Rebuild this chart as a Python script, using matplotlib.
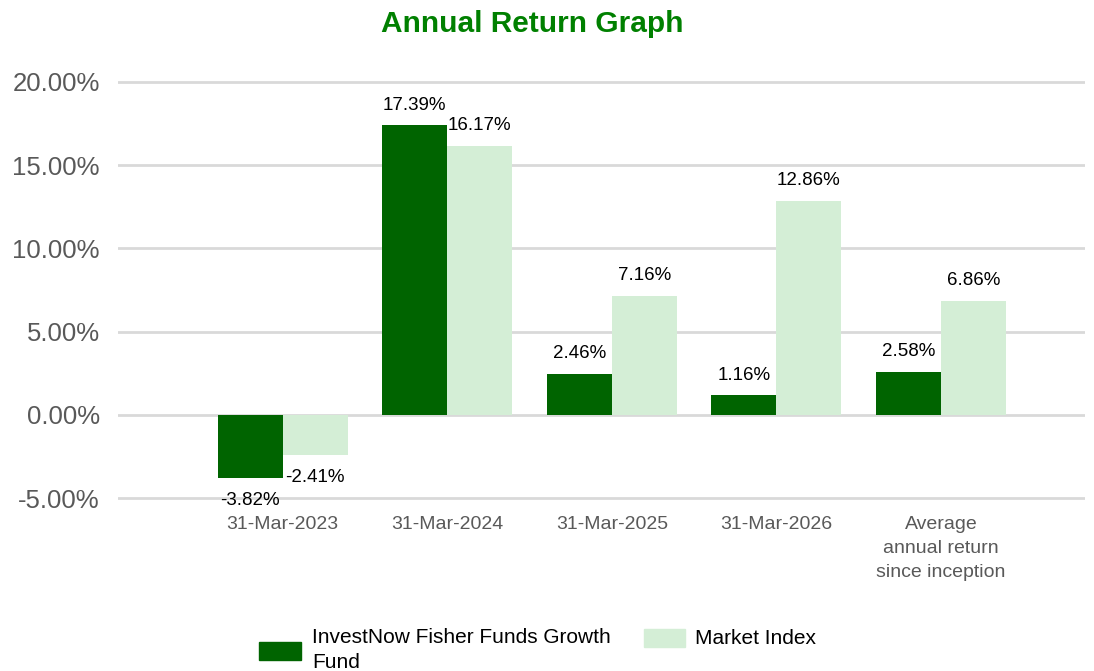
import matplotlib.pyplot as plt
from matplotlib.patches import Rectangle
import numpy as np

plt.rcParams['font.family'] = ['Liberation Sans', 'DejaVu Sans']

# data
categories = ["31-Mar-2023", "31-Mar-2024", "31-Mar-2025", "31-Mar-2026",
              "Average\nannual return\nsince inception"]
fund = [-3.82, 17.39, 2.46, 1.16, 2.58]
index = [-2.41, 16.17, 7.16, 12.86, 6.86]
yticks = [-5, 0, 5, 10, 15, 20]
fund_name = "InvestNow Fisher Funds Growth\nFund"
index_name = "Market Index"

dark = "#006400"
light = "#d4eed6"

W, H = 1094, 671
fig = plt.figure(figsize=(W / 100, H / 100), dpi=100)
ax = fig.add_axes([0.1079, 1 - 500.5 / H, 0.8839, 421 / H])

x = np.arange(len(categories))
w = 0.395
b1 = ax.bar(x - w / 2, fund, w, color=dark, zorder=3)
b2 = ax.bar(x + w / 2, index, w, color=light, zorder=3)

# value labels
for bars, vals in [(b1, fund), (b2, index)]:
    for rect, v in zip(bars, vals):
        cx = rect.get_x() + rect.get_width() / 2
        off = 14.5 if v >= 0 else -16
        ax.annotate(f"{v:.2f}%", (cx, v), xytext=(0, off), textcoords="offset points",
                    ha="center", va="center", fontsize=13.5, color="black", zorder=4)

ax.set_xlim(-1.0, 4.875)
ax.set_ylim(-5.15, 20.15)
ax.set_yticks(yticks)
ax.set_yticklabels([f"{t:.2f}%" for t in yticks], fontsize=18.5, color="#595959")
ax.set_xticks(x)
ax.set_xticklabels(categories, fontsize=14, color="#595959", linespacing=1.55)
ax.tick_params(axis="both", length=0)
ax.tick_params(axis="y", pad=13)
ax.tick_params(axis="x", pad=11)
ax.grid(axis="y", color="#d9d9d9", linewidth=2, zorder=0)
for s in ax.spines.values():
    s.set_visible(False)

fig.text(532 / W, 1 - 24 / H, "Annual Return Graph", fontsize=21.5, fontweight="bold",
         color="#008000", ha="center", va="center")

# legend
fig.patches.append(Rectangle((259 / W, 1 - 660 / H), 42 / W, 18 / H, color=dark,
                             transform=fig.transFigure, figure=fig))
fig.text(312 / W, 1 - 650 / H, fund_name, fontsize=15, ha="left", va="center",
         linespacing=1.35)
fig.patches.append(Rectangle((644 / W, 1 - 647 / H), 41 / W, 18 / H, color=light,
                             transform=fig.transFigure, figure=fig))
fig.text(695 / W, 1 - 639 / H, index_name, fontsize=15, ha="left", va="center")

fig.savefig("out.png", dpi=100)
